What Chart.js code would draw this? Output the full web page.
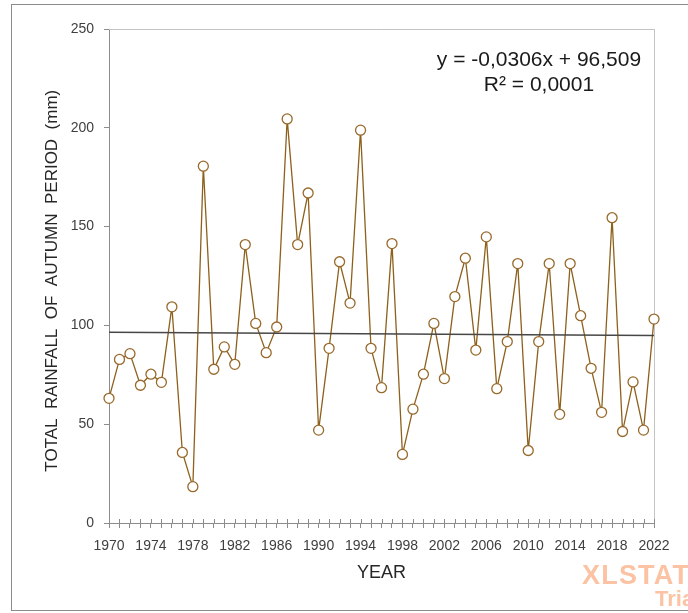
<!DOCTYPE html>
<html>
<head>
<meta charset="utf-8">
<script src="https://cdn.jsdelivr.net/npm/chart.js@4/dist/chart.umd.min.js"></script>
<style>
  html, body { margin: 0; padding: 0; background: #ffffff; overflow: hidden; }
  #wrap { position: relative; width: 688px; height: 613px; overflow: hidden; background: #fff; }
  #c { position: absolute; left: 0; top: 0; }
  #frame { position: absolute; left: 11px; top: 4px; width: 720px; height: 607px; border: 1px solid #8c8c8c; box-sizing: border-box; pointer-events: none; }
  #eq { position: absolute; left: 389px; top: 46px; width: 300px; text-align: center; font-family: 'Liberation Sans', Arial, sans-serif; font-size: 21px; line-height: 25px; color: #1a1a1a; white-space: nowrap; }
  .wm { position: absolute; font-family: 'Liberation Sans', Arial, sans-serif; font-weight: bold; color: #fbc3a3; white-space: nowrap; }
  #wm1 { left: 582px; top: 562px; font-size: 27px; line-height: 27px; letter-spacing: 1.2px; }
  #wm2 { left: 655px; top: 588px; font-size: 22px; line-height: 22px; }
</style>
</head>
<body>
<div id="wrap">
  <canvas id="c" width="688" height="613"></canvas>
  <div id="frame"></div>
  <div id="eq">y = -0,0306x + 96,509<br>R² = 0,0001</div>
  <div class="wm" id="wm1">XLSTAT</div>
  <div class="wm" id="wm2">Trial</div>
</div>
<script>
// ---- Data ----
const YEARS = [1970, 1971, 1972, 1973, 1974, 1975, 1976, 1977, 1978, 1979,
               1980, 1981, 1982, 1983, 1984, 1985, 1986, 1987, 1988, 1989,
               1990, 1991, 1992, 1993, 1994, 1995, 1996, 1997, 1998, 1999,
               2000, 2001, 2002, 2003, 2004, 2005, 2006, 2007, 2008, 2009,
               2010, 2011, 2012, 2013, 2014, 2015, 2016, 2017, 2018, 2019,
               2020, 2021, 2022];
const RAINFALL = [63.1, 82.8, 85.7, 69.7, 75.3, 71.2, 109.4, 35.7, 18.4, 180.6,
                  77.8, 89.1, 80.3, 140.9, 101.0, 86.2, 99.2, 204.5, 140.9, 167.0,
                  47.0, 88.4, 132.2, 111.3, 198.8, 88.4, 68.5, 141.4, 34.7, 57.6,
                  75.3, 101.0, 73.1, 114.6, 134.0, 87.5, 144.8, 68.0, 91.8, 131.3,
                  36.7, 91.8, 131.3, 55.0, 131.3, 104.9, 78.3, 56.0, 154.5, 46.3,
                  71.4, 47.0, 103.2];
const X_TICK_LABELS = [1970, 1974, 1978, 1982, 1986, 1990, 1994, 1998, 2002, 2006, 2010, 2014, 2018, 2022];
const Y_TICKS = [0, 50, 100, 150, 200, 250];
const TREND_SLOPE = -0.0306;     // per observation index (1..n)
const TREND_INTERCEPT = 96.509;
const Y_TITLE = 'TOTAL  RAINFALL  OF  AUTUMN  PERIOD  (mm)  ';
const X_TITLE = 'YEAR';

// ---- Build datasets ----
const seriesPoints = YEARS.map((yr, i) => ({ x: yr, y: RAINFALL[i] }));
const trendPoints = [
  { x: YEARS[0], y: TREND_INTERCEPT + TREND_SLOPE * 1 },
  { x: YEARS[YEARS.length - 1], y: TREND_INTERCEPT + TREND_SLOPE * YEARS.length }
];

const FONT = "'Liberation Sans', Arial, sans-serif";
Chart.defaults.font.family = FONT;

const AXIS_COLOR = '#8c8c8c';

const framePlugin = {
  id: 'frameTicks',
  beforeDatasetsDraw(chart) {
    const { ctx, chartArea: { left, right, top, bottom }, scales: { x } } = chart;
    ctx.save();
    ctx.lineWidth = 1;
    ctx.strokeStyle = '#c4c4c4';
    ctx.beginPath();
    ctx.moveTo(left, Math.round(top) + 0.5);
    ctx.lineTo(Math.round(right) + 0.5, Math.round(top) + 0.5);
    ctx.moveTo(Math.round(right) + 0.5, Math.round(top));
    ctx.lineTo(Math.round(right) + 0.5, Math.round(bottom));
    ctx.stroke();
    ctx.strokeStyle = AXIS_COLOR;
    ctx.beginPath();
    x.ticks.forEach(t => {
      const px = Math.round(x.getPixelForValue(t.value)) + 0.5;
      ctx.moveTo(px, Math.round(bottom) - 4);
      ctx.lineTo(px, Math.round(bottom));
    });
    ctx.stroke();
    ctx.restore();
  }
};

new Chart(document.getElementById('c'), {
  type: 'line',
  data: {
    datasets: [
      {
        label: 'Trend',
        data: trendPoints,
        borderColor: '#474747',
        borderWidth: 1.5,
        pointRadius: 0,
        fill: false,
        order: 0
      },
      {
        label: 'Rainfall',
        data: seriesPoints,
        borderColor: '#8d601c',
        borderWidth: 1.3,
        pointRadius: 5,
        pointBorderWidth: 1.3,
        pointBackgroundColor: '#ffffff',
        pointBorderColor: '#98692a',
        tension: 0,
        fill: false,
        clip: false,
        order: 1
      }
    ]
  },
  options: {
    responsive: false,
    animation: false,
    layout: { padding: { left: 0, top: 29, right: 34, bottom: 0 } },
    plugins: {
      legend: { display: false },
      tooltip: { enabled: false }
    },
    scales: {
      x: {
        type: 'linear',
        min: YEARS[0],
        max: YEARS[YEARS.length - 1],
        afterFit(scale) { scale.height = 90; },
        afterBuildTicks(scale) {
          scale.ticks = YEARS.map(v => ({ value: v }));
        },
        ticks: {
          autoSkip: false,
          maxRotation: 0,
          padding: 10,
          color: '#404040',
          font: { size: 14 },
          callback: (v) => X_TICK_LABELS.includes(v) ? String(v) : ''
        },
        grid: { display: true, drawOnChartArea: false, drawTicks: true, tickLength: 5, color: AXIS_COLOR },
        border: { display: true, color: AXIS_COLOR, width: 1 },
        title: {
          display: true,
          text: X_TITLE,
          color: '#262626',
          font: { size: 18 },
          padding: { top: 0, bottom: 29 }
        }
      },
      y: {
        min: Y_TICKS[0],
        max: Y_TICKS[Y_TICKS.length - 1],
        afterFit(scale) { scale.width = 109; },
        afterBuildTicks(scale) {
          scale.ticks = Y_TICKS.map(v => ({ value: v }));
        },
        ticks: {
          padding: 10,
          color: '#404040',
          font: { size: 14 }
        },
        grid: { display: true, drawOnChartArea: false, drawTicks: true, tickLength: 5, color: AXIS_COLOR },
        border: { display: true, color: AXIS_COLOR, width: 1 },
        title: {
          display: true,
          text: Y_TITLE,
          color: '#262626',
          font: { size: 17 },
          padding: { top: 42, bottom: 0 }
        }
      }
    }
  },
  plugins: [framePlugin]
});
</script>
</body>
</html>
